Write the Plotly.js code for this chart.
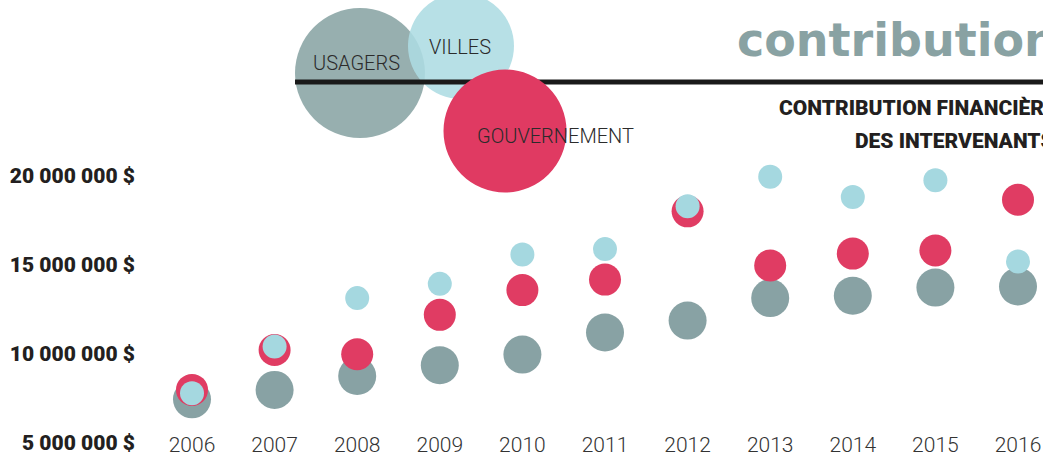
<!DOCTYPE html>
<html>
<head>
<meta charset="utf-8">
<script src="https://cdn.plot.ly/plotly-3.0.1.min.js"></script>
<style>html,body{margin:0;padding:0;background:#fff;}#chart{width:1043px;height:458px;}</style>
</head>
<body>
<div id="chart"></div>
<script>
// ---- data ----
const years = [2006, 2007, 2008, 2009, 2010, 2011, 2012, 2013, 2014, 2015, 2016];
const usagers = [7450000, 7980000, 8760000, 9360000, 9960000, 11200000, 11870000, 13130000, 13260000, 13720000, 13780000];
const gouvernement = [7980000, 10220000, 9980000, 12190000, 13580000, 14170000, 18000000, 14960000, 15630000, 15800000, 18650000];
const villes = [7790000, 10410000, 13130000, 13930000, 15580000, 15880000, 18280000, 19940000, 18800000, 19740000, 15190000];
const yTickVals = [5000000, 10000000, 15000000, 20000000];
const yTickText = ['5 000 000 $', '10 000 000 $', '15 000 000 $', '20 000 000 $'];
const seriesNames = ['USAGERS', 'VILLES', 'GOUVERNEMENT'];
const titleText = 'contribution';
const subtitle1 = 'CONTRIBUTION FINANCIÈRE';
const subtitle2 = 'DES INTERVENANTS';

// ---- layout helpers ----
const WIDTH = 1043, HEIGHT = 458, L = 136;
const PW = WIDTH - L;
const pxPerYear = 82.6;
const xr = [2006 - (192 - L) / pxPerYear, 2016 + (WIDTH - 1018) / pxPerYear];
const pxPerM = 17.82;
const yr = [(5 - 15 / pxPerM) * 1e6, (5 + 443 / pxPerM) * 1e6];
const px = x => (x - L) / PW;
const py = y => 1 - y / HEIGHT;

const GRAY = '#88A2A4', RED = '#E03C63', BLUE = '#A5D8E0';
const SANS = 'Roboto, "Liberation Sans", sans-serif';

const traces = [
  {x: years, y: usagers, name: seriesNames[0], type: 'scatter', mode: 'markers',
   marker: {size: 38, color: GRAY, line: {width: 0}}},
  {x: years, y: gouvernement, name: seriesNames[2], type: 'scatter', mode: 'markers',
   marker: {size: 32, color: RED, line: {width: 0}}},
  {x: years, y: villes, name: seriesNames[1], type: 'scatter', mode: 'markers',
   marker: {size: 24, color: BLUE, line: {width: 0}}}
];

function circle(cx, cy, r, color, opacity) {
  return {type: 'circle', xref: 'paper', yref: 'paper',
    x0: px(cx - r), x1: px(cx + r), y0: py(cy + r), y1: py(cy - r),
    fillcolor: color, opacity: opacity, line: {width: 0}, layer: 'above'};
}

const shapes = [
  circle(360, 73, 65, '#97AFAF', 1),
  circle(461, 46, 53, '#ADDCE3', 0.88),
  {type: 'line', xref: 'paper', yref: 'paper', x0: px(295), x1: px(1043), y0: py(82), y1: py(82),
   line: {color: '#1a1a1a', width: 5}},
  circle(505, 131, 61.5, '#E03A62', 1)
];

const legFont = {family: SANS, size: 20, color: '#2b2b2b', weight: 300};
const annotations = [
  {text: seriesNames[0], x: px(356), y: py(63), xref: 'paper', yref: 'paper', showarrow: false,
   xanchor: 'center', yanchor: 'middle', font: legFont},
  {text: seriesNames[1], x: px(460), y: py(47), xref: 'paper', yref: 'paper', showarrow: false,
   xanchor: 'center', yanchor: 'middle', font: legFont},
  {text: seriesNames[2], x: px(555), y: py(136), xref: 'paper', yref: 'paper', showarrow: false,
   xanchor: 'center', yanchor: 'middle', font: legFont},
  {text: titleText, x: px(735), y: py(40), xref: 'paper', yref: 'paper', showarrow: false,
   xanchor: 'left', yanchor: 'middle', font: {family: '"DejaVu Sans", sans-serif', size: 46, color: '#89A2A3', weight: 'bold'}},
  {text: subtitle1, x: px(1058), y: py(108), xref: 'paper', yref: 'paper', showarrow: false,
   xanchor: 'right', yanchor: 'middle', font: {family: SANS, size: 21, color: '#231F20', weight: 900}},
  {text: subtitle2, x: px(1056), y: py(141), xref: 'paper', yref: 'paper', showarrow: false,
   xanchor: 'right', yanchor: 'middle', font: {family: SANS, size: 21, color: '#231F20', weight: 900}}
];

const layout = {
  width: WIDTH, height: HEIGHT,
  margin: {l: L, r: 0, t: 0, b: 0, pad: 0},
  paper_bgcolor: '#ffffff', plot_bgcolor: '#ffffff',
  showlegend: false, hovermode: false,
  xaxis: {range: xr, tickvals: years, ticktext: years.map(String), ticks: '',
    anchor: 'free', position: py(430),
    showgrid: false, zeroline: false, showline: false,
    tickfont: {family: SANS, size: 21, color: '#333333', weight: 300}, fixedrange: true},
  yaxis: {range: yr, tickvals: yTickVals, ticktext: yTickText, ticks: '',
    showgrid: false, zeroline: false, showline: false,
    tickfont: {family: SANS, size: 21, color: '#231F20', weight: 900}, fixedrange: true},
  shapes: shapes,
  annotations: annotations
};

Plotly.newPlot('chart', traces, layout, {displayModeBar: false, staticPlot: true});
</script>
</body>
</html>
